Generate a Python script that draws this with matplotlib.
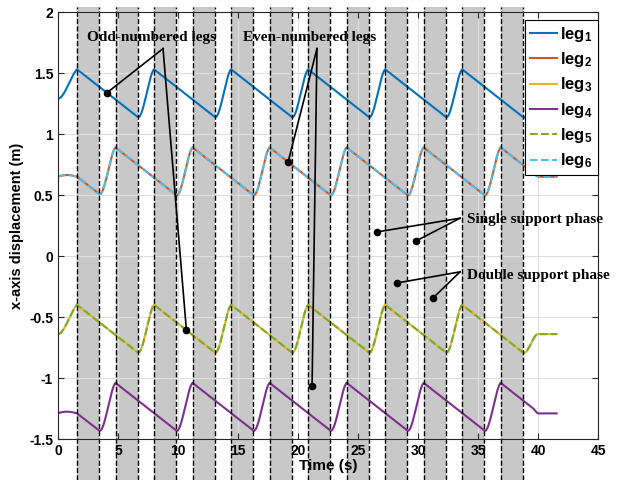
import numpy as np
import matplotlib
matplotlib.use('Agg')
import matplotlib.pyplot as plt

plt.rcParams['font.family'] = ['Liberation Sans', 'DejaVu Sans']
plt.rcParams['mathtext.fontset'] = 'custom'
plt.rcParams['mathtext.bf'] = 'Liberation Sans:bold'
plt.rcParams['mathtext.rm'] = 'Liberation Sans'

# grey bands = double support phase (s)
band_start = [1.58, 4.79, 8.00, 11.21, 14.42, 17.63, 20.84, 24.05, 27.26, 30.47, 33.68, 36.89]
band_end = [3.42, 6.63, 9.84, 13.05, 16.26, 19.47, 22.68, 25.89, 29.10, 32.31, 35.52, 38.73]

# odd-numbered legs (1, 3, 5): knot times and segment shape to next knot
odd_t = [0.0, 1.58, 6.63, 8.00, 13.05, 14.42, 19.47, 20.84, 25.89, 27.26, 32.31, 33.68, 38.73, 40.00, 41.55]
odd_seg = ['rise', 'line', 'swing', 'line', 'swing', 'line', 'swing', 'line',
           'swing', 'line', 'swing', 'line', 'ease', 'line']
leg1_y = [1.29, 1.53, 1.14, 1.53, 1.14, 1.53, 1.14, 1.53, 1.14, 1.53, 1.14, 1.53, 1.14, 1.29, 1.29]
leg3_y = [-0.64, -0.40, -0.79, -0.40, -0.79, -0.40, -0.79, -0.40, -0.79, -0.40, -0.79, -0.40, -0.79, -0.64, -0.64]
leg5_y = [-0.64, -0.40, -0.79, -0.40, -0.79, -0.40, -0.79, -0.40, -0.79, -0.40, -0.79, -0.40, -0.79, -0.64, -0.64]

# even-numbered legs (2, 4, 6)
even_t = [0.0, 1.58, 3.42, 4.79, 9.84, 11.21, 16.26, 17.63, 22.68, 24.05, 29.10, 30.47, 35.52, 36.89, 39.55, 40.05, 41.55]
even_seg = ['bump', 'line', 'swing', 'line', 'swing', 'line', 'swing', 'line',
            'swing', 'line', 'swing', 'line', 'swing', 'line', 'ease', 'line']
leg2_y = [0.65, 0.65, 0.51, 0.89, 0.50, 0.89, 0.50, 0.89, 0.50, 0.89, 0.50, 0.89, 0.50, 0.89, 0.685, 0.65, 0.65]
leg4_y = [-1.29, -1.29, -1.43, -1.04, -1.43, -1.04, -1.43, -1.04, -1.43, -1.04, -1.43, -1.04, -1.43, -1.04, -1.245, -1.29, -1.29]
leg6_y = [0.65, 0.65, 0.51, 0.89, 0.50, 0.89, 0.50, 0.89, 0.50, 0.89, 0.50, 0.89, 0.50, 0.89, 0.685, 0.65, 0.65]

# end slopes (m/s) for the curved segments
shape_slopes = {'rise': (0.0, 0.1), 'swing': (-0.078, 0.1), 'ease': (-0.078, 0.0), 'bump': (0.04, -0.03)}


def trajectory(knot_t, knot_y, segs):
    ts, ys = [knot_t[0]], [knot_y[0]]
    for i, seg in enumerate(segs):
        t0, t1 = knot_t[i], knot_t[i + 1]
        y0, y1 = knot_y[i], knot_y[i + 1]
        if seg == 'line':
            ts.append(t1)
            ys.append(y1)
            continue
        s0, s1 = shape_slopes[seg]
        T = t1 - t0
        u = np.linspace(0, 1, 40)[1:]
        h00 = 2 * u**3 - 3 * u**2 + 1
        h10 = u**3 - 2 * u**2 + u
        h01 = -2 * u**3 + 3 * u**2
        h11 = u**3 - u**2
        ts.extend(t0 + u * T)
        ys.extend(h00 * y0 + h10 * T * s0 + h01 * y1 + h11 * T * s1)
    return np.array(ts), np.array(ys)


fig = plt.figure(figsize=(6.26, 4.8), dpi=100)
ax = fig.add_axes([0.0927, 0.0854, 0.8626, 0.8896])

for a, b in zip(band_start, band_end):
    ax.axvspan(a, b, ymin=-0.097, ymax=1.012, color='#c8c8c8', lw=0, clip_on=False, zorder=1)
    for x in (a, b):
        ax.axvline(x, ymin=-0.097, ymax=1.012, color='k', ls='--', lw=1, clip_on=False, zorder=3)

colors = ['#0072BD', '#D95319', '#EDB120', '#7E2F8E', '#77AC30', '#4DBEEE']
series = [(odd_t, leg1_y, odd_seg, '-'), (even_t, leg2_y, even_seg, '-'),
          (odd_t, leg3_y, odd_seg, '-'), (even_t, leg4_y, even_seg, '-'),
          (odd_t, leg5_y, odd_seg, '--'), (even_t, leg6_y, even_seg, '--')]
for i, (kt, ky, sg, ls) in enumerate(series):
    t, y = trajectory(kt, ky, sg)
    ax.plot(t, y, color=colors[i], ls=ls, lw=1.5, zorder=2,
            label=r'$\mathbf{leg_{%d}}$' % (i + 1))

# annotations
ann_font = dict(family='Liberation Serif', weight='bold', size=11)
ax.text(7.83, 1.79, 'Odd-numbered legs', ha='center', va='center', zorder=5, **ann_font)
ax.text(20.96, 1.79, 'Even-numbered legs', ha='center', va='center', zorder=5, **ann_font)
ax.text(34.1, 0.30, 'Single support phase', ha='left', va='center', zorder=5, clip_on=False, **ann_font)
ax.text(34.1, -0.16, 'Double support phase', ha='left', va='center', zorder=5, clip_on=False, **ann_font)

pointers = [((8.75, 1.70), [(4.1, 1.34), (10.7, -0.61)]),
            ((21.58, 1.70), [(19.17, 0.77), (21.17, -1.065)]),
            ((33.5, 0.31), [(26.58, 0.197), (29.83, 0.123)]),
            ((33.5, -0.13), [(28.25, -0.221), (31.25, -0.344)])]
for (ox, oy), targets in pointers:
    for tx, ty in targets:
        ax.plot([ox, tx], [oy, ty], color='k', lw=1.2, zorder=5)
        ax.plot(tx, ty, 'o', color='k', ms=4.5, zorder=6)

ax.set_xlim(0, 45)
ax.set_ylim(-1.5, 2)
ax.set_xticks(np.arange(0, 46, 5))
ax.set_yticks(np.arange(-1.5, 2.01, 0.5))
ax.set_yticklabels(['-1.5', '-1', '-0.5', '0', '0.5', '1', '1.5', '2'])
ax.grid(True, color='#dfdfdf', lw=0.8)
ax.tick_params(direction='in', top=True, right=True, labelsize=10, length=4, color='#262626')
for lab in ax.get_xticklabels() + ax.get_yticklabels():
    lab.set_fontweight('bold')
for sp in ax.spines.values():
    sp.set_color('#262626')
    sp.set_linewidth(0.8)
    sp.set_zorder(4)

ax.set_xlabel('Time (s)', fontsize=11, fontweight='bold', labelpad=1)
ax.set_ylabel('x-axis displacement (m)', fontsize=10.5, fontweight='bold', labelpad=4)

leg = ax.legend(loc='upper right', bbox_to_anchor=(1.0, 0.982), borderaxespad=0, fontsize=12,
                fancybox=False, framealpha=1, edgecolor='k', handlelength=1.6,
                labelspacing=0.38, handletextpad=0.2, borderpad=0.3)
leg.get_frame().set_linewidth(0.8)
leg.set_zorder(7)

fig.savefig('out.png', dpi=100)
